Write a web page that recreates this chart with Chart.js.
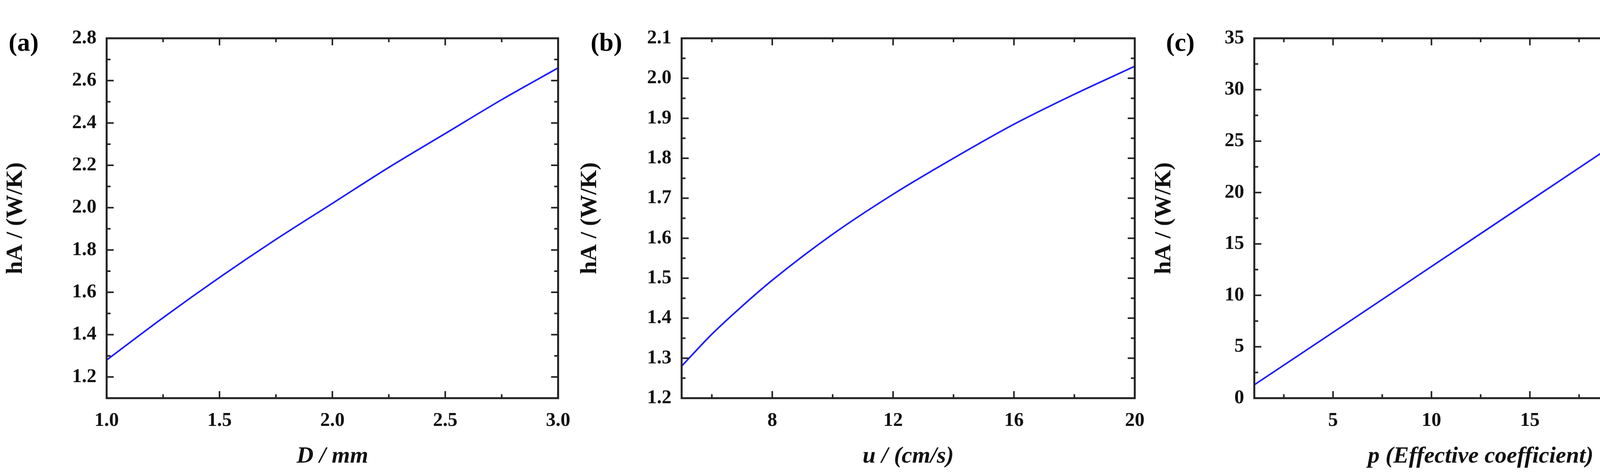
<!DOCTYPE html>
<html><head><meta charset="utf-8">
<script src="https://cdn.jsdelivr.net/npm/chart.js@4/dist/chart.umd.min.js"></script>
<style>
html,body{margin:0;padding:0}
body{background:#fff;width:4412px;height:1208px;overflow:hidden;position:relative;font-family:"Liberation Serif",serif}
canvas{position:absolute;top:0}
.tag{position:absolute;top:70px;font:bold 66px "Liberation Serif",serif;color:#000}
</style></head><body>
<canvas id="ca" width="1480" height="1208" style="left:0;width:1480px;height:1208px"></canvas>
<canvas id="cb" width="1480" height="1208" style="left:1470px;width:1480px;height:1208px"></canvas>
<canvas id="cc" width="1472" height="1208" style="left:2940px;width:1472px;height:1208px"></canvas>
<div class="tag" style="left:22px">(a)</div>
<div class="tag" style="left:1512px">(b)</div>
<div class="tag" style="left:2985px">(c)</div>
<script>
// panel (a): hA vs D
const dVals = [1.0, 1.25, 1.5, 1.75, 2.0, 2.25, 2.5, 2.75, 3.0];
const hA_D = [1.28, 1.48, 1.67, 1.85, 2.02, 2.19, 2.35, 2.51, 2.66];
// panel (b): hA vs u
const uVals = [5, 6, 7, 8, 10, 12, 14, 16, 18, 20];
const hA_u = [1.28, 1.36, 1.43, 1.495, 1.61, 1.71, 1.80, 1.885, 1.96, 2.03];
// panel (c): hA vs p
const pVals = [1, 5, 10, 15, 20, 24];
const hA_p = [1.3, 6.4, 12.8, 19.2, 25.6, 30.7];

const xTicksA = [1.0, 1.5, 2.0, 2.5, 3.0], xMinorA = [1.25, 1.75, 2.25, 2.75];
const yTicksA = [1.2, 1.4, 1.6, 1.8, 2.0, 2.2, 2.4, 2.6, 2.8], yMinorA = [1.3, 1.5, 1.7, 1.9, 2.1, 2.3, 2.5, 2.7];
const xTicksB = [8, 12, 16, 20], xMinorB = [6, 10, 14, 18];
const yTicksB = [1.2, 1.3, 1.4, 1.5, 1.6, 1.7, 1.8, 1.9, 2.0, 2.1], yMinorB = [1.25, 1.35, 1.45, 1.55, 1.65, 1.75, 1.85, 1.95, 2.05];
const xTicksC = [5, 10, 15, 20], xMinorC = [2.5, 7.5, 12.5, 17.5, 22.5];
const yTicksC = [0, 5, 10, 15, 20, 25, 30, 35], yMinorC = [2.5, 7.5, 12.5, 17.5, 22.5, 27.5, 32.5];

const tickFont = {family: 'Liberation Serif', size: 50, weight: 'bold'};

const frame = {
  id: 'frame',
  afterDatasetsDraw(chart, args, o) {
    const {ctx, chartArea: a, scales: {x, y}} = chart;
    ctx.save();
    ctx.strokeStyle = '#222'; ctx.lineWidth = 5;
    ctx.strokeRect(a.left, a.top, a.right - a.left, a.bottom - a.top);
    ctx.lineWidth = 4;
    const tk = (vals, len) => {
      vals.forEach(v => {
        const px = x.getPixelForValue(v);
        ctx.beginPath();
        ctx.moveTo(px, a.bottom); ctx.lineTo(px, a.bottom - len);
        ctx.moveTo(px, a.top); ctx.lineTo(px, a.top + len);
        ctx.stroke();
      });
    };
    const tky = (vals, len) => {
      vals.forEach(v => {
        const py = y.getPixelForValue(v);
        ctx.beginPath();
        ctx.moveTo(a.left, py); ctx.lineTo(a.left + len, py);
        ctx.moveTo(a.right, py); ctx.lineTo(a.right - len, py);
        ctx.stroke();
      });
    };
    tk(o.xMajor, 18); tk(o.xMinor, 10);
    tky(o.yMajor, 18); tky(o.yMinor, 10);
    ctx.restore();
  }
};

function makeChart(id, xs, ys, opt) {
  const pts = xs.map((v, i) => ({x: v, y: ys[i]}));
  return new Chart(document.getElementById(id), {
    type: 'line',
    data: {datasets: [{data: pts, borderColor: '#1c1cff', borderWidth: 4, pointRadius: 0, cubicInterpolationMode: 'monotone'}]},
    options: {
      responsive: false, devicePixelRatio: 1, animation: false,
      layout: {padding: {top: opt.top, right: opt.right, left: 0, bottom: 0}},
      plugins: {legend: {display: false}, tooltip: {enabled: false},
        frame: {xMajor: opt.xt, xMinor: opt.xm, yMajor: opt.yt, yMinor: opt.ym}},
      scales: {
        x: {type: 'linear', min: opt.xmin, max: opt.xmax,
          grid: {display: false}, border: {display: false},
          afterBuildTicks: s => { s.ticks = opt.xt.map(v => ({value: v})); },
          afterFit: s => { s.height = 189; },
          ticks: {font: tickFont, color: '#111', padding: 20, maxRotation: 0, callback: opt.xf},
          title: {display: true, text: opt.xTitle, color: '#111', padding: {top: 6},
            font: {family: 'Liberation Serif', size: 60, weight: 'bold', style: 'italic'}}},
        y: {type: 'linear', min: opt.ymin, max: opt.ymax,
          grid: {display: false}, border: {display: false},
          afterBuildTicks: s => { s.ticks = opt.yt.map(v => ({value: v})); },
          afterFit: s => { s.width = opt.yw; },
          ticks: {font: tickFont, color: '#111', padding: 18, callback: opt.yf},
          title: {display: true, text: 'hA / (W/K)', color: '#111', padding: {bottom: 20},
            font: {family: 'Liberation Serif', size: 60, weight: 'bold'}}}
      }
    },
    plugins: [frame]
  });
}

const f1 = v => v.toFixed(1);
const f0 = v => String(v);

makeChart('ca', dVals, hA_D, {xmin: 1, xmax: 3, ymin: 1.1, ymax: 2.8, xt: xTicksA, xm: xMinorA, yt: yTicksA, ym: yMinorA,
  xf: f1, yf: f1, xTitle: 'D / mm', top: 98, right: 45, yw: 273});
makeChart('cb', uVals, hA_u, {xmin: 5, xmax: 20, ymin: 1.2, ymax: 2.1, xt: xTicksB, xm: xMinorB, yt: yTicksB, ym: yMinorB,
  xf: f0, yf: f1, xTitle: 'u / (cm/s)', top: 98, right: 43, yw: 275});
makeChart('cc', pVals, hA_p, {xmin: 1, xmax: 24, ymin: 0, ymax: 35, xt: xTicksC, xm: xMinorC, yt: yTicksC, ym: yMinorC,
  xf: f0, yf: f0, xTitle: 'p (Effective coefficient)', top: 98, right: 42, yw: 271});
</script>
</body></html>
